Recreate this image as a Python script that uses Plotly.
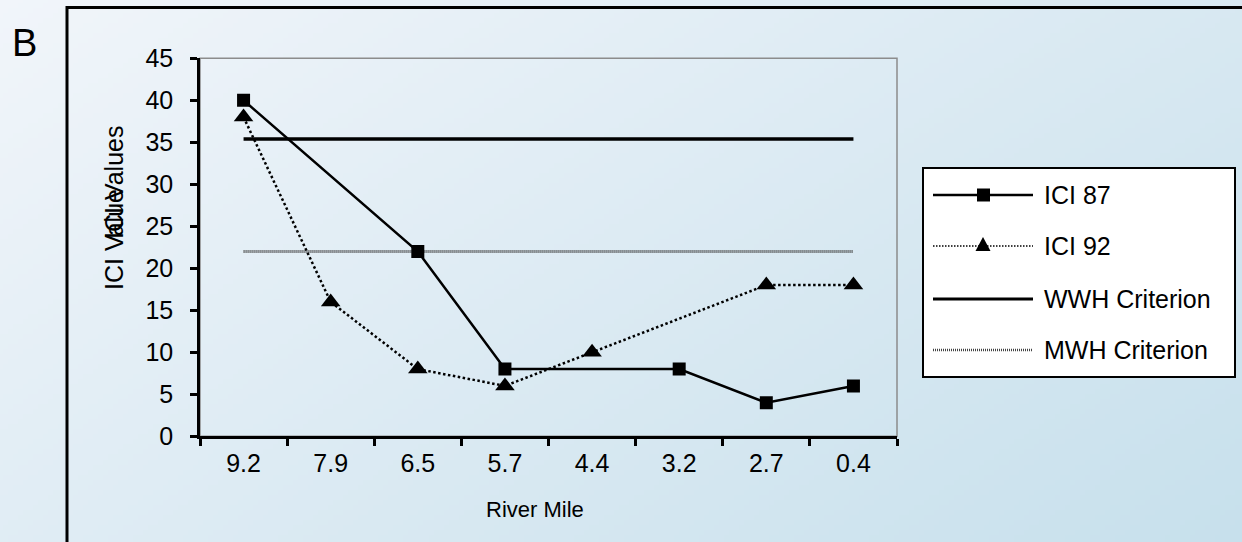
import base64
import struct
import zlib

import plotly.graph_objects as go

# ---- data -------------------------------------------------------------
river_miles = ["9.2", "7.9", "6.5", "5.7", "4.4", "3.2", "2.7", "0.4"]
ici_87 = [40, None, 22, 8, None, 8, 4, 6]
ici_92 = [38, 16, 8, 6, 10, None, 18, 18]
wwh_criterion = 35.4
mwh_criterion = 22
y_ticks = [0, 5, 10, 15, 20, 25, 30, 35, 40, 45]

W, H = 1242, 542
FONT = "Liberation Sans, Arial, sans-serif"


def px(x):
    return x / W


def py(y):
    return 1 - y / H


def gradient_png(w, h, c0, c1):
    """Small diagonal gradient PNG as a data URI (stretched to the page)."""
    rows = []
    for j in range(h):
        row = bytearray([0])
        for i in range(w):
            t = 0.6 * i / (w - 1) + 0.4 * j / (h - 1)
            row += bytes(int(round(a + (b - a) * t)) for a, b in zip(c0, c1))
        rows.append(bytes(row))
    raw = b"".join(rows)

    def chunk(tag, data):
        c = struct.pack(">I", len(data)) + tag + data
        return c + struct.pack(">I", zlib.crc32(tag + data) & 0xFFFFFFFF)

    png = b"\x89PNG\r\n\x1a\n"
    png += chunk(b"IHDR", struct.pack(">IIBBBBB", w, h, 8, 2, 0, 0, 0))
    png += chunk(b"IDAT", zlib.compress(raw, 9))
    png += chunk(b"IEND", b"")
    return "data:image/png;base64," + base64.b64encode(png).decode()


fig = go.Figure()

# criterion lines span the first to last sampling site
fig.add_trace(go.Scatter(
    x=[river_miles[0], river_miles[-1]], y=[wwh_criterion] * 2,
    mode="lines", line=dict(color="black", width=3.5), showlegend=False,
    hoverinfo="skip"))
fig.add_trace(go.Scatter(
    x=[river_miles[0], river_miles[-1]], y=[mwh_criterion] * 2,
    mode="lines", line=dict(color="#444444", width=3, dash="1px,1px"),
    showlegend=False, hoverinfo="skip"))

fig.add_trace(go.Scatter(
    x=river_miles, y=ici_92, mode="lines+markers", connectgaps=True,
    name="ICI 92", line=dict(color="black", width=2.5, dash="2.5px,2.5px"),
    marker=dict(symbol="triangle-up", size=17, color="black"),
    showlegend=False))
fig.add_trace(go.Scatter(
    x=river_miles, y=ici_87, mode="lines+markers", connectgaps=True,
    name="ICI 87", line=dict(color="black", width=2.5),
    marker=dict(symbol="square", size=13, color="black"),
    showlegend=False))

shapes = [
    # gray frame round the plot area
    dict(type="rect", xref="x domain", yref="y domain", x0=0, x1=1, y0=0, y1=1,
         line=dict(color="#8c8c8c", width=1.5), layer="below"),
    # outer chart border
    dict(type="rect", xref="paper", yref="paper", x0=px(67), x1=px(W + 20),
         y0=py(H + 20), y1=py(7.5), line=dict(color="black", width=3)),
    # legend box
    dict(type="rect", xref="paper", yref="paper", x0=px(923), x1=px(1235),
         y0=py(377), y1=py(168), fillcolor="white",
         line=dict(color="black", width=2)),
]

legend_rows = [
    ("ICI 87", 195, dict(color="black", width=2.5), "square"),
    ("ICI 92", 246, dict(color="black", width=1.5, dash="1.5px,1.5px"), "triangle"),
    ("WWH Criterion", 299, dict(color="black", width=3), None),
    ("MWH Criterion", 350, dict(color="#444444", width=2.5, dash="1px,1px"), None),
]
annotations = []
for label, yy, line, sym in legend_rows:
    shapes.append(dict(type="line", xref="paper", yref="paper",
                       x0=px(933), x1=px(1033), y0=py(yy), y1=py(yy), line=line))
    if sym == "square":
        shapes.append(dict(type="rect", xref="paper", yref="paper",
                           x0=px(977), x1=px(990), y0=py(yy + 6.5), y1=py(yy - 6.5),
                           fillcolor="black", line=dict(width=0)))
    elif sym == "triangle":
        path = "M {} {} L {} {} L {} {} Z".format(
            px(975.5), py(yy + 5), px(990.5), py(yy + 5), px(983), py(yy - 9))
        shapes.append(dict(type="path", xref="paper", yref="paper", path=path,
                           fillcolor="black", line=dict(width=0)))
    annotations.append(dict(text=label, xref="paper", yref="paper", x=px(1042),
                            y=py(yy), xanchor="left", yanchor="middle",
                            showarrow=False, font=dict(size=25, color="black")))

annotations += [
    dict(text="B", xref="paper", yref="paper", x=px(24), y=py(43),
         xanchor="center", yanchor="middle", showarrow=False,
         font=dict(size=38, color="black")),
    dict(text="River Mile", xref="paper", yref="paper", x=px(535), y=py(509),
         xanchor="center", yanchor="middle", showarrow=False,
         font=dict(size=22, color="black")),
    # the axis title is printed twice, the second copy shifted down
    dict(text="ICI Values", xref="paper", yref="paper", x=px(114), y=py(183),
         xanchor="center", yanchor="middle", textangle=-90, showarrow=False,
         font=dict(size=25, color="black")),
    dict(text="ICI Value", xref="paper", yref="paper", x=px(114), y=py(240),
         xanchor="center", yanchor="middle", textangle=-90, showarrow=False,
         font=dict(size=25, color="black")),
]

fig.update_layout(
    width=W, height=H,
    margin=dict(l=0, r=0, t=0, b=0, autoexpand=False),
    paper_bgcolor="white", plot_bgcolor="rgba(0,0,0,0)",
    font=dict(family=FONT, color="black"),
    showlegend=False,
    shapes=shapes, annotations=annotations,
    images=[dict(source=gradient_png(248, 108, (241, 245, 250), (199, 224, 236)),
                 xref="paper", yref="paper", x=0, y=1, sizex=1, sizey=1,
                 xanchor="left", yanchor="top", sizing="stretch", layer="below")],
    xaxis=dict(domain=[px(200), px(897)], type="category",
               categoryorder="array", categoryarray=river_miles,
               range=[-0.5, len(river_miles) - 0.5], automargin=False,
               showline=True, linecolor="black", linewidth=2.5,
               ticks="outside", tickson="boundaries", ticklen=7, tickwidth=2.5,
               tickcolor="black", tickfont=dict(size=25), showgrid=False,
               zeroline=False, ticklabelstandoff=3),
    yaxis=dict(domain=[py(436.3), py(58.3)], range=[0, 45], automargin=False,
               tickvals=y_ticks, showline=True, linecolor="black", linewidth=2.5,
               ticks="outside", ticklen=7, tickwidth=2.5, tickcolor="black",
               tickfont=dict(size=25), showgrid=False, zeroline=False,
               ticklabelstandoff=12),
)

fig.write_html("out.html")
